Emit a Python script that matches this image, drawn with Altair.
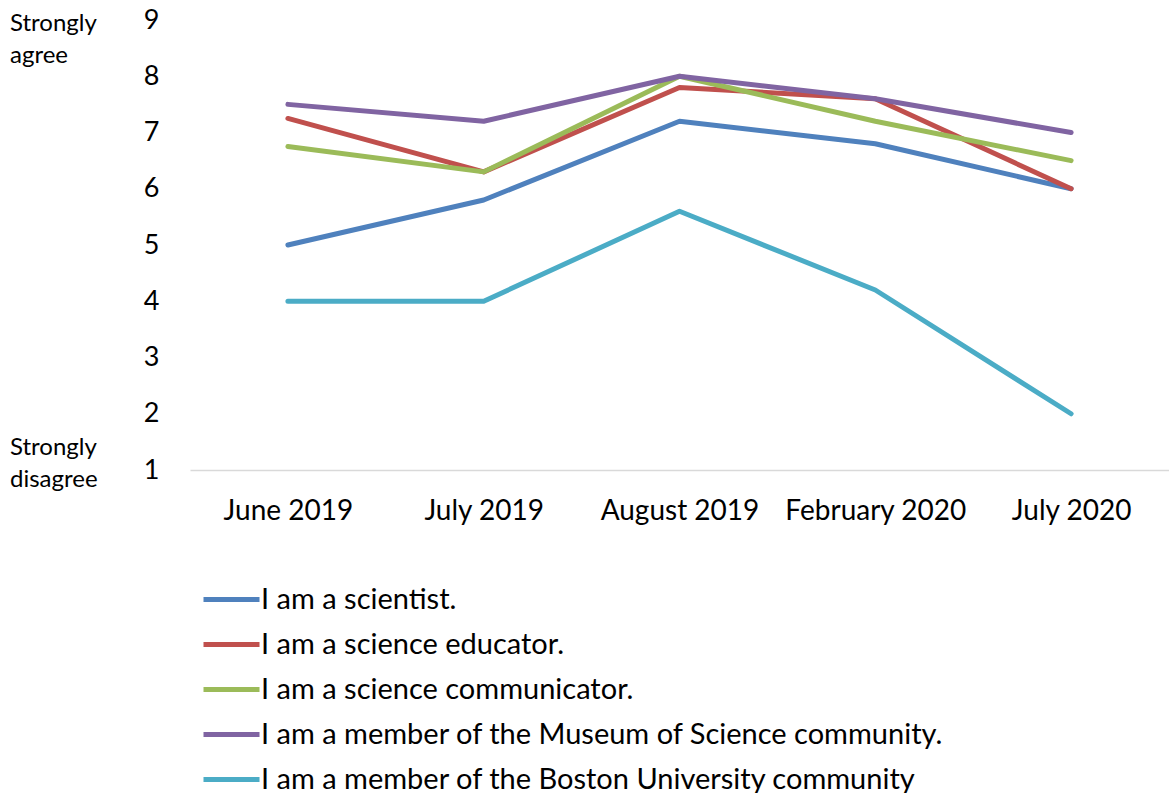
import altair as alt
import pandas as pd

months = ["June 2019", "July 2019", "August 2019", "February 2020", "July 2020"]
series = [
    "I am a scientist.",
    "I am a science educator.",
    "I am a science communicator.",
    "I am a member of the Museum of Science community.",
    "I am a member of the Boston University community",
]
scientist = [5.0, 5.8, 7.2, 6.8, 6.0]
educator = [7.25, 6.3, 7.8, 7.6, 6.0]
communicator = [6.75, 6.3, 8.0, 7.2, 6.5]
museum = [7.5, 7.2, 8.0, 7.6, 7.0]
boston = [4.0, 4.0, 5.6, 4.2, 2.0]
colors = ["#4F81BD", "#C0504D", "#9BBB59", "#8064A2", "#4BACC6"]
y_ticks = [1, 2, 3, 4, 5, 6, 7, 8, 9]

rows = []
for si, (name, vals) in enumerate(zip(series, [scientist, educator, communicator, museum, boston])):
    for m, v in zip(months, vals):
        rows.append({"month": m, "series": name, "value": v, "order": si})
df = pd.DataFrame(rows)

FONT = "Lato"

lines = alt.Chart(df).mark_line(strokeWidth=5, strokeCap="round", strokeJoin="round").encode(
    x=alt.X("month:N", sort=months, title=None,
            scale=alt.Scale(type="point", padding=0.5),
            axis=alt.Axis(labelAngle=0, ticks=False, grid=False, domainColor="#d9d9d9",
                          domainWidth=1.5, labelFontSize=28, labelPadding=27,
                          labelLimit=400, labelColor="black", labelFont=FONT)),
    y=alt.Y("value:Q", title=None,
            scale=alt.Scale(domain=[1, 9], nice=False, zero=False),
            axis=alt.Axis(values=y_ticks, ticks=False, grid=False, domain=False,
                          labelFontSize=27, labelPadding=31, labelColor="black",
                          labelFont=FONT)),
    color=alt.Color("series:N", sort=series,
                    scale=alt.Scale(domain=series, range=colors),
                    legend=alt.Legend(title=None, orient="none", legendX=27, legendY=565,
                                      symbolType="M-2.8,0H2.8", symbolSize=400,
                                      symbolStrokeWidth=5, labelFontSize=29,
                                      labelFont=FONT, labelColor="black",
                                      labelOffset=15, rowPadding=15, labelLimit=1000)),
    order="order:Q",
    detail="series:N",
)

agree = alt.Chart(pd.DataFrame({"t": ["Strongly\nagree"]})).mark_text(
    align="left", baseline="middle", fontSize=24, font=FONT, lineBreak="\n",
    lineHeight=32, color="black").encode(
    text="t:N", x=alt.value(-180), y=alt.value(4))

disagree = alt.Chart(pd.DataFrame({"t": ["Strongly\ndisagree"]})).mark_text(
    align="left", baseline="middle", fontSize=24, font=FONT, lineBreak="\n",
    lineHeight=32, color="black").encode(
    text="t:N", x=alt.value(-180), y=alt.value(428))

chart = alt.layer(lines, agree, disagree).properties(
    width=979, height=450,
    autosize=alt.AutoSizeParams(type="none"),
    padding={"left": 190, "top": 20, "right": 0, "bottom": 323},
    background="white",
).configure_view(stroke=None)

chart.save("out.html", embed_options={"renderer": "svg", "actions": False})
